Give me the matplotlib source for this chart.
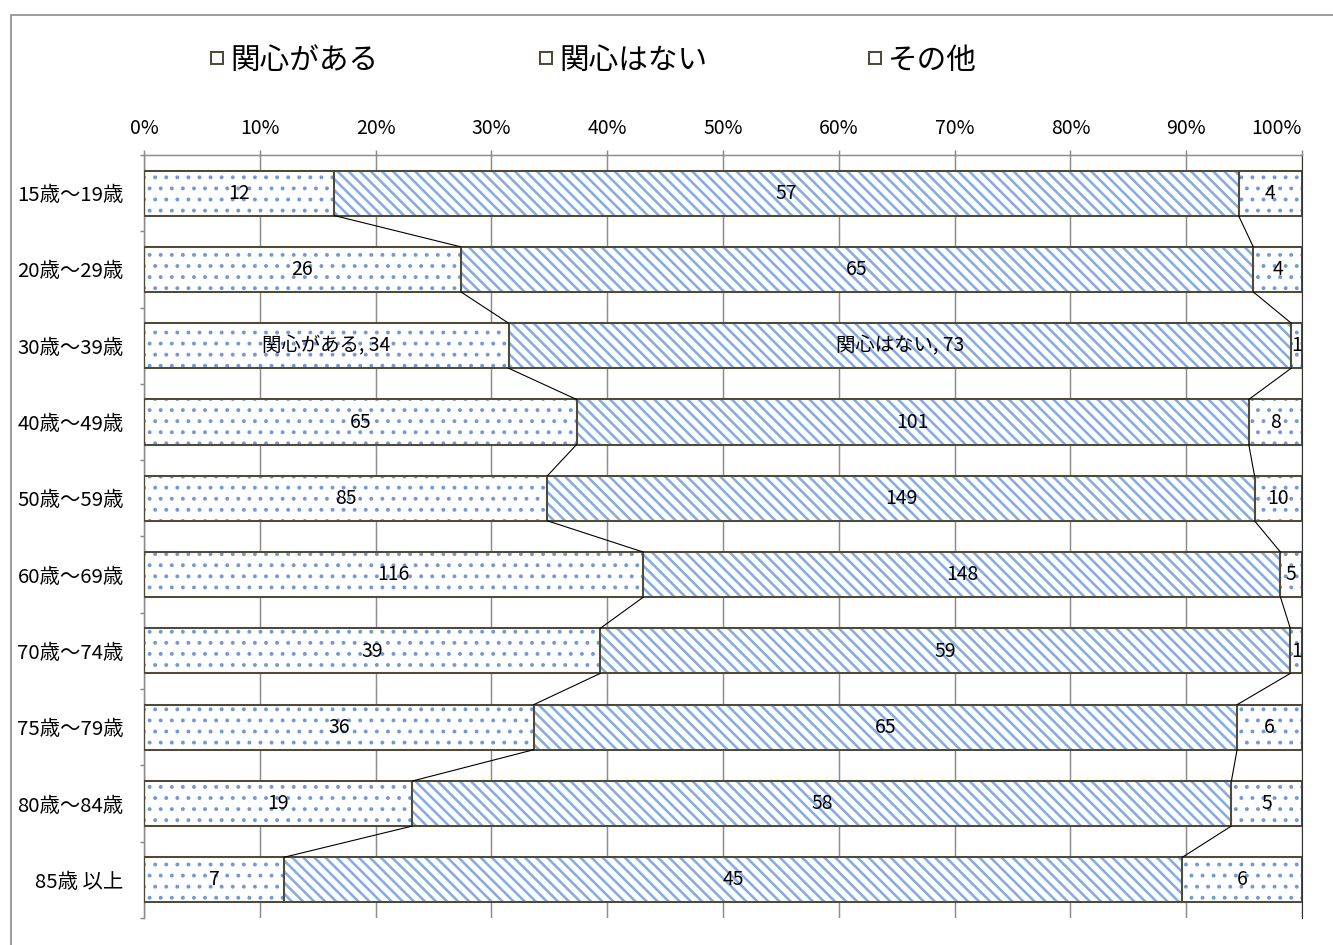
import matplotlib
matplotlib.use('Agg')
import matplotlib.pyplot as plt
from matplotlib.patches import Rectangle, Patch
from matplotlib.legend_handler import HandlerPatch
import numpy as np

# ---- data ----
categories = ['15歳～19歳', '20歳～29歳', '30歳～39歳', '40歳～49歳', '50歳～59歳',
              '60歳～69歳', '70歳～74歳', '75歳～79歳', '80歳～84歳', '85歳 以上']
series_names = ['関心がある', '関心はない', 'その他']
interested = [12, 26, 34, 65, 85, 116, 39, 36, 19, 7]
not_interested = [57, 65, 73, 101, 149, 148, 59, 65, 58, 45]
other = [4, 4, 1, 8, 10, 5, 1, 6, 5, 6]
x_ticks = [0, 10, 20, 30, 40, 50, 60, 70, 80, 90, 100]
x_ticklabels = ['0%', '10%', '20%', '30%', '40%', '50%', '60%', '70%', '80%', '90%', '100%']
named_label_row = '30歳～39歳'   # row whose labels include the series name (first two series)

plt.rcParams['font.family'] = ['Noto Sans CJK JP', 'DejaVu Sans']

DPI = 133.3
fig = plt.figure(figsize=(10.0, 7.09), dpi=DPI)
W, H = 1333, 945
ax = fig.add_axes([144 / W, 1 - 918 / H, (1302 - 144) / W, (918 - 155) / H])

data = np.array([interested, not_interested, other], dtype=float)
shares = data / data.sum(axis=0) * 100
lefts = np.vstack([np.zeros(len(categories)), np.cumsum(shares, axis=0)[:-1]])
ypos = np.arange(len(categories))
bar_h = 0.59
edge = '#4f4b36'
BS = chr(92)
hatch_cols = ['#6e9ad8', '#86ade2', '#6e9ad8']
hatches = ['..', BS * 4, '..']
hatch_lw = [0.9, 1.4, 0.9]

for s in range(3):
    with plt.rc_context({'hatch.linewidth': hatch_lw[s]}):
        ax.barh(ypos, shares[s], left=lefts[s], height=bar_h, color='white',
                edgecolor=hatch_cols[s], linewidth=0, hatch=hatches[s], zorder=2)
    ax.barh(ypos, shares[s], left=lefts[s], height=bar_h, fill=False,
            edgecolor=edge, linewidth=1.1, zorder=3)
    for i, cat in enumerate(categories):
        val = int(data[s, i])
        txt = f'{series_names[s]}, {val}' if (cat == named_label_row and s < 2) else f'{val}'
        ax.text(lefts[s, i] + shares[s, i] / 2, ypos[i], txt, ha='center', va='center',
                fontsize=10.5, color='black', zorder=5)

# series lines connecting boundaries
cum = np.cumsum(shares, axis=0)
for s in range(2):
    for i in range(len(categories) - 1):
        ax.plot([cum[s, i], cum[s, i + 1]], [ypos[i] + bar_h / 2, ypos[i + 1] - bar_h / 2],
                color='black', linewidth=0.6, zorder=4)

ax.set_xlim(0, 100)
ax.set_ylim(len(categories) - 0.5, -0.5)
ax.set_xticks(x_ticks)
ax.set_xticklabels(x_ticklabels, fontsize=10.5)
ax.xaxis.tick_top()
ax.xaxis.get_major_ticks()[-1].label2.set_horizontalalignment('right')
ax.tick_params(axis='x', which='major', direction='out', length=2.8, width=0.8,
               color='#8c8c8c', pad=6)
ax.set_yticks(ypos)
ax.set_yticklabels(categories, fontsize=11)
ax.set_yticks(np.arange(-0.5, len(categories)), minor=True)
ax.tick_params(axis='y', which='major', length=0, pad=11)
ax.tick_params(axis='y', which='minor', direction='out', length=2.3, width=0.8, color='#8c8c8c')
ax.grid(axis='x', color='#8c8c8c', linewidth=0.8, zorder=0)
ax.set_axisbelow(True)
ax.spines['bottom'].set_visible(False)
ax.spines['top'].set_color('#8c8c8c')
ax.spines['left'].set_color('#8c8c8c')
ax.spines['top'].set_linewidth(0.8)
ax.spines['left'].set_linewidth(0.8)
ax.spines['right'].set_color('#333333')
ax.spines['right'].set_linewidth(0.6)


# legend with small square handles
def square_patch(legend, orig_handle, xdescent, ydescent, width, height, fontsize):
    side = 6.5  # points
    return Rectangle((width - side - xdescent, (height - side) / 2 - ydescent), side, side)


handles = [Patch(facecolor='white', edgecolor=edge, linewidth=1.1) for _ in series_names]
fig.legend(handles, series_names, loc='center left', bbox_to_anchor=(210 / W, 1 - 60 / H),
           ncol=3, frameon=False, fontsize=16, handlelength=0.45, handleheight=0.45,
           handletextpad=0.25, columnspacing=5.4, borderaxespad=0, borderpad=0,
           handler_map={Patch: HandlerPatch(patch_func=square_patch)})

# outer frame
fig.patches.append(Rectangle((11 / W, -0.05), 1.2, 1 - 15 / H + 0.05, transform=fig.transFigure,
                             fill=False, edgecolor='#8c8c8c', linewidth=0.9))

fig.savefig('out.png', dpi=DPI)
